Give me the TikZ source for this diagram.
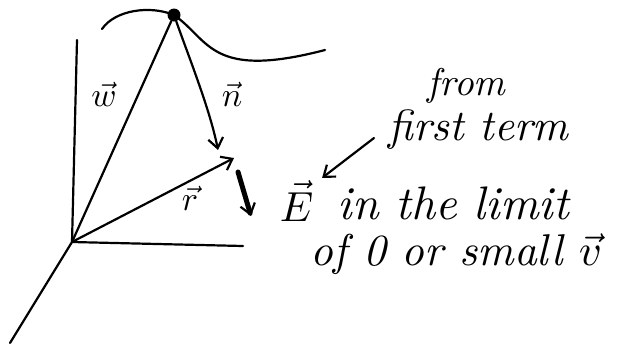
\documentclass[tikz,border=0pt]{standalone}
\usepackage{amsmath}
\usepackage{xcolor}
\usepackage{tikz}
\usetikzlibrary{arrows.meta,calc,positioning}
\definecolor{inkcolor}{RGB}{0,0,0}
\tikzset{
  ink/.style={draw=inkcolor,line width=2.2pt,line cap=round,line join=round},
  barb/.style={ink,-{Straight Barb[length=10pt,width=15pt,line width=2.2pt]}},
  hand/.style={scale=4.2,font=\itshape,inner sep=0pt,text=inkcolor},
  vlabel/.style={scale=3.4,inner sep=0pt,text=inkcolor},
}
\begin{document}
\begin{tikzpicture}[x=1pt,y=-1pt]
  \useasboundingbox (0,0) rectangle (624,349);
  % axes and the charge's path
  \coordinate (O) at (72,242);
  \coordinate (ztop) at (77,40);
  \coordinate (xend) at (243,246);
  \coordinate (yend) at (10,343);
  \node[circle,fill=inkcolor,inner sep=0pt,minimum size=13pt] (q) at (174,15) {};
  \draw[ink] (O) -- (ztop);
  \draw[ink] (O) -- (xend);
  \draw[ink] (O) -- (yend);
  \draw[ink] (102,29) .. controls (115,10) and (150,5) .. (q.center)
             .. controls (210,40) and (210,80) .. (325,50);
  % vectors
  \coordinate (rtip) at (234,158);
  \coordinate (ntip) at (218,150);
  \coordinate (etail) at (238,172);
  \coordinate (etip) at (251,216);
  \draw[ink] (O) -- (q);
  \draw[barb] (O) -- (rtip);
  \draw[barb] (q) .. controls (190,60) and (210,110) .. (ntip);
  \draw[barb,line width=5pt] (etail) -- (etip);
  \node[vlabel] (w) at (104,94) {$\vec{w}$};
  \node[vlabel] (n) at (232,94) {$\vec{n}$};
  \node[vlabel] (r) at (190,198) {$\vec{r}$};
  % text
  \node[hand,anchor=west] (E) at (279,201) {$\vec{E}$};
  \node[hand,anchor=west,scale=1.12] (limit) at (337,203) {in the limit};
  \node[hand,anchor=west,scale=1.06] (small) at (310,254) {of 0 or small $\vec{v}$};
  \node[hand,anchor=west,scale=0.92] (from) at (427,86) {from};
  \node[hand,anchor=west,scale=1.04] (first) at (388,130) {first term};
  \coordinate (ptail) at (374,138);
  \draw[barb] (ptail) -- ($(E.north east)+(8,-2)$);
\end{tikzpicture}
\end{document}
